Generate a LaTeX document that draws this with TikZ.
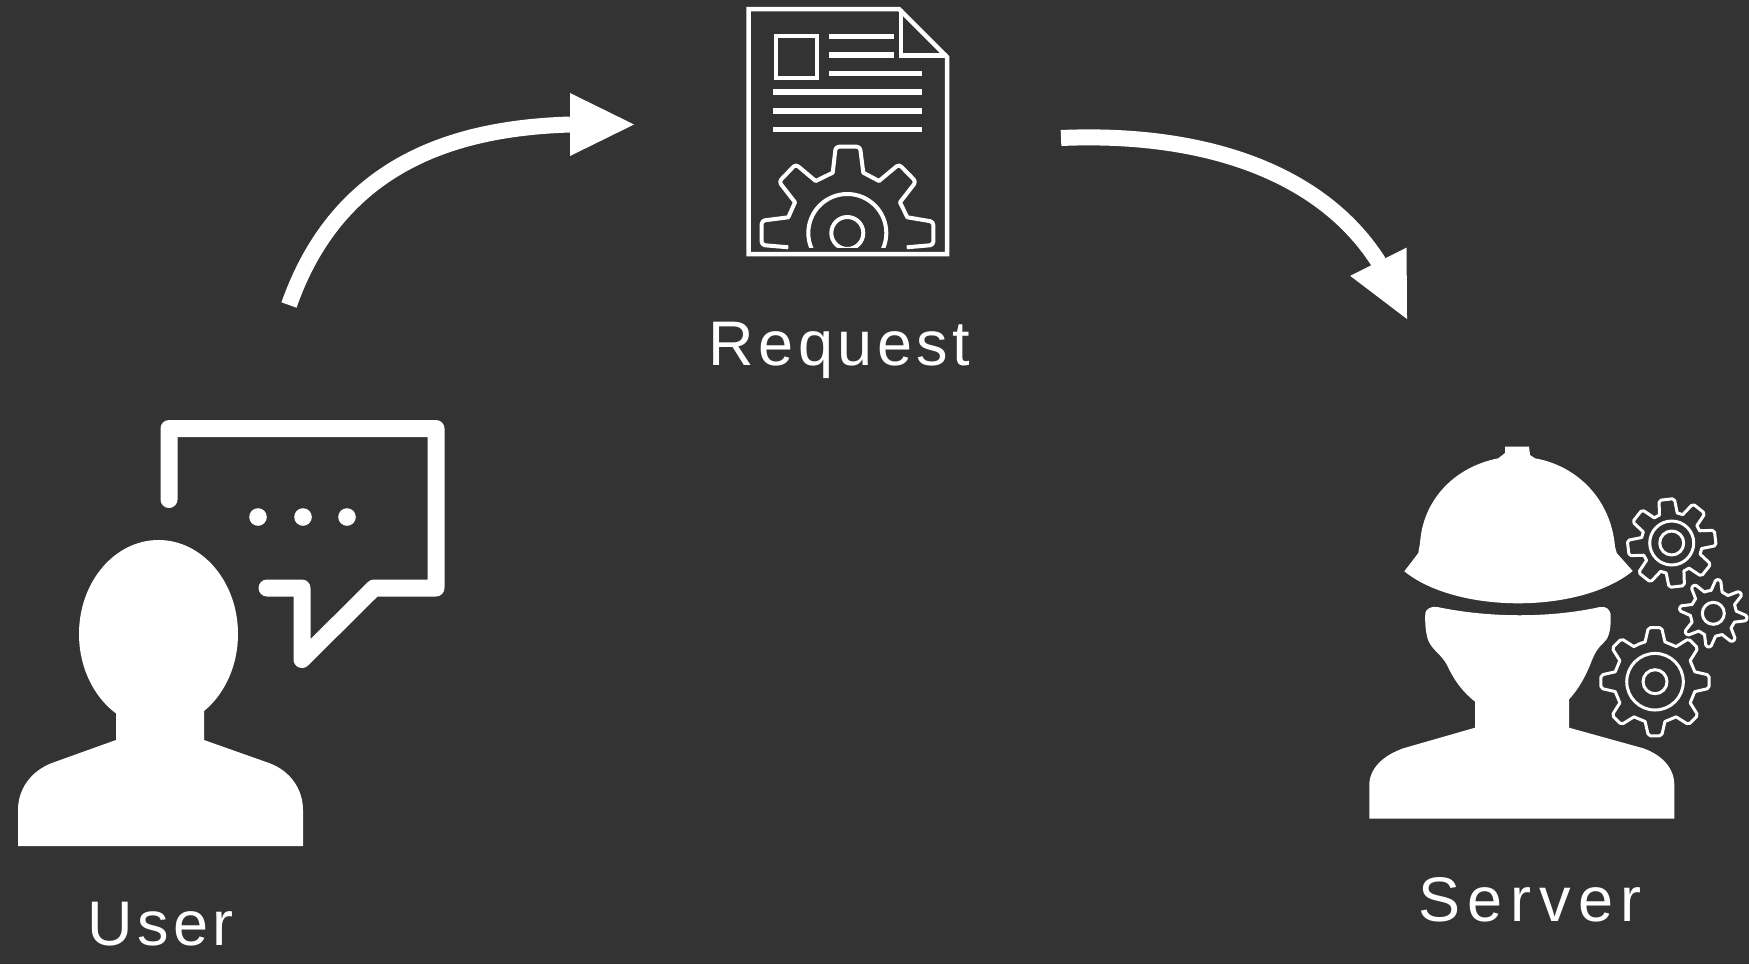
\documentclass[tikz,border=0pt]{standalone}
\usepackage{fontspec}
\usetikzlibrary{arrows.meta}
\setmainfont{Liberation Sans}
\definecolor{bgc}{HTML}{333333}
\newcommand{\cogwheel}[8]{%
 \begin{scope}[shift={(#1,#2)}]
  \draw[cogline] ({#3-22.5}:#5)
    foreach \k in {0,...,7} { -- ({#3+45*\k-#7}:#5) [rounded corners=#8] -- ({#3+45*\k-#6}:#4) -- ({#3+45*\k+#6}:#4) [sharp corners] -- ({#3+45*\k+#7}:#5) }
    -- cycle;
 \end{scope}}
\tikzset{
 solidicon/.style={fill=white,draw=none},
 bubbleline/.style={draw=white,line width=8.5pt,line cap=round,line join=round},
 docline/.style={draw=white,line width=2.25pt,line join=miter},
 textline/.style={draw=white,line width=2.7pt},
 docgear/.style={draw=white,line width=2pt,line join=round},
 cogline/.style={draw=white,line width=1.5pt,line join=round},
 flowarrow/.style={draw=white,line width=8pt,-{Triangle[length=32pt,width=31.5pt,fill=white,line width=0pt]}},
 caption/.style={text=white,font=\fontsize{31.5}{32}\selectfont,anchor=base,inner sep=0pt}
}
\begin{document}
\begin{tikzpicture}[x=0.5pt,y=-0.5pt]
\fill[bgc] (0,0) rectangle (1749,964);
\useasboundingbox (0,0) rectangle (1749,964);

% ---- user
\fill[solidicon] (158.5,634) ellipse [x radius=79.5,y radius=94];
\fill[solidicon] (116,700) -- (116,740) -- (53,762.6)
  .. controls (30,771) and (18,790) .. (18,810) -- (18,846) -- (303,846) -- (303,810)
  .. controls (303,790) and (291,771) .. (269,763) -- (204,740) -- (204,700) -- cycle;
\draw[bubbleline] (169,499.5) -- (169,428.5) -- (436,428.5) -- (436,588) -- (374,588) -- (302,659.5) -- (302,588) -- (267,588);
\fill[white] (258,517) circle [radius=8.8];
\fill[white] (303,517) circle [radius=8.8];
\fill[white] (347,517) circle [radius=8.8];
\node[caption] (userlabel) at (160.5,945) {\addfontfeature{LetterSpace=7}User};

% ---- request document
\draw[docline] (748.5,9) -- (899,9) -- (947,57) -- (947,254) -- (748.5,254) -- cycle;
\draw[docline] (901,9) -- (901,55.5) -- (947,55.5);
\draw[docline] (776,36) rectangle (817,78);
\draw[textline] (829,36.5) -- (894,36.5);
\draw[textline] (829,55) -- (894,55);
\draw[textline] (829,73.5) -- (922,73.5);
\draw[textline] (773,92) -- (922,92);
\draw[textline] (773,111) -- (922,111);
\draw[textline] (773,129.5) -- (922,129.5);
\draw[docgear] (788.3,247.3) [rounded corners=1.6pt] -- (761.7,245) -- (761.7,220.7) [sharp corners] -- (788.3,217.3) -- (795,202.3) [rounded corners=1.6pt] -- (779,181.7) -- (795.7,164.3) [sharp corners] -- (815.7,181) -- (832.7,172.7) [rounded corners=1.6pt] -- (835.7,146.7) -- (860,146.7) [sharp corners] -- (863.3,172.7) -- (879,181) [rounded corners=1.6pt] -- (899,164.3) -- (916,181.7) [sharp corners] -- (900,202.3) -- (907.3,217.3) [rounded corners=1.6pt] -- (933.3,221.7) -- (933.3,245) [sharp corners] -- (906.7,247.3);
\begin{scope}
 \clip (800,180) rectangle (895,247.5);
 \draw[docgear] (847.3,233) circle [radius=39];
 \draw[docgear] (847.3,233) circle [radius=16];
\end{scope}
\node[caption] (requestlabel) at (839.5,365) {\addfontfeature{LetterSpace=7}Request};

% ---- server
\fill[solidicon] (1505,446.7) -- (1529,446.7) -- (1530,455) -- (1535,458.3)
  .. controls (1578,466) and (1611,500) .. (1615,546.7) -- (1616.7,553) -- (1632.7,571)
  .. controls (1580,614) and (1457,614) .. (1404.3,571.3)
  -- (1418.3,553) -- (1420,543)
  .. controls (1423,500) and (1454,467) .. (1498.3,458.3) -- (1505,453) -- cycle;
\fill[solidicon] (1437.3,607) .. controls (1490,618) and (1550,618) .. (1600,607)
  .. controls (1606,606) and (1610.7,609) .. (1610.7,616.7)
  .. controls (1611,632) and (1608,639) .. (1603.3,643)
  .. controls (1597,649) and (1595,653) .. (1592,660)
  .. controls (1586,676) and (1578,690) .. (1569,699.3)
  -- (1569,727.7) -- (1643.3,748.3)
  .. controls (1662,755) and (1674.3,768) .. (1674.3,785)
  -- (1674.3,818.7) -- (1369.3,818.7) -- (1369.3,785)
  .. controls (1369.3,768) and (1384,755) .. (1403.3,748.3)
  -- (1475,727.7) -- (1475,701.7)
  .. controls (1463,692) and (1455,682) .. (1447,665)
  .. controls (1442,655) and (1432,650) .. (1428,640)
  .. controls (1425,630) and (1425,620) .. (1425.3,613)
  .. controls (1426,609) and (1431,606) .. (1437.3,607) -- cycle;
\cogwheel{1671.7}{543}{-96.6}{44.5}{30.5}{10}{17}{1pt}
\draw[cogline] (1671.7,543) circle [radius=22];
\draw[cogline] (1671.7,543) circle [radius=12];
\cogwheel{1713.3}{613.3}{-81.5}{34}{23}{4}{14}{0.7pt}
\draw[cogline] (1713.3,613.3) circle [radius=11];
\cogwheel{1655}{681.7}{-90}{54.5}{41}{7}{14}{1pt}
\draw[cogline] (1655,681.7) circle [radius=28.3];
\draw[cogline] (1655,681.7) circle [radius=12];
\node[caption] (serverlabel) at (1530,921) {\addfontfeature{LetterSpace=12}Server};

% ---- connectors
\coordinate (a1) at (289,305);
\coordinate (a1base) at (570,124.5);
\coordinate (a1tip) at (634,124.5);
\coordinate (a2) at (1061,138);
\coordinate (a2base) at (1378.5,262);
\coordinate (a2tip) at (1407,319);
\draw[flowarrow] (a1) .. controls (340,160) and (460,128) .. (a1base) -- (a1tip);
\draw[flowarrow] (a2) .. controls (1200,132) and (1320,170) .. (a2base) -- (a2tip);
\end{tikzpicture}
\end{document}
